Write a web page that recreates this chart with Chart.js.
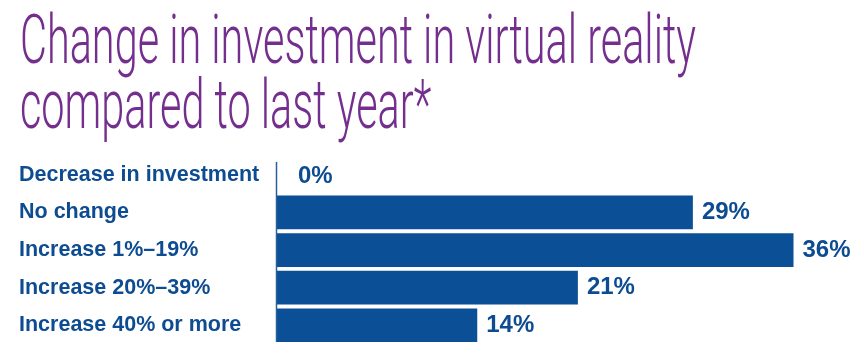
<!DOCTYPE html>
<html><head><meta charset="utf-8">
<script src="https://cdn.jsdelivr.net/npm/chart.js@4.4.0/dist/chart.umd.min.js"></script>
<style>html,body{margin:0;padding:0;background:#fff;} #wrap{width:864px;height:360px;position:relative;}</style>
</head><body><div id="wrap"><canvas id="c" width="864" height="360"></canvas></div>
<script>
const titleLines = ['Change in investment in virtual reality', 'compared to last year*'];
const categories = ['Decrease in investment', 'No change', 'Increase 1%\u201319%', 'Increase 20%\u201339%', 'Increase 40% or more'];
const values = [0, 29, 36, 21, 14];
const valueLabels = ['0%', '29%', '36%', '21%', '14%'];
const axisMax = 40;

const BLUE = '#0B4F96';
const LABEL_BLUE = '#0E4C92';
const PURPLE = '#742F8E';

const titlePlugin = {
  id: 'condensedTitle',
  afterDraw(chart) {
    const ctx = chart.ctx;
    ctx.save();
    ctx.font = '300 69px Roboto';
    ctx.fillStyle = PURPLE;
    ctx.textBaseline = 'alphabetic';
    ctx.textAlign = 'left';
    const w = ctx.measureText(titleLines[0]).width;
    const sx = 676 / w;
    ctx.translate(20, 0);
    ctx.scale(sx, 1);
    ctx.fillText(titleLines[0], 0, 63);
    ctx.fillText(titleLines[1], 0, 128);
    ctx.restore();
  }
};

const axisLinePlugin = {
  id: 'axisLine',
  afterDatasetsDraw(chart) {
    const { ctx, chartArea } = chart;
    ctx.save();
    ctx.strokeStyle = '#2A5F9E';
    ctx.lineWidth = 1.5;
    ctx.beginPath();
    ctx.moveTo(chartArea.left + 0.5, chartArea.top + 6);
    ctx.lineTo(chartArea.left + 0.5, chartArea.bottom - 2);
    ctx.stroke();
    ctx.restore();
  }
};

const valuePlugin = {
  id: 'valueLabels',
  afterDatasetsDraw(chart) {
    const ctx = chart.ctx;
    const meta = chart.getDatasetMeta(0);
    ctx.save();
    ctx.font = 'bold 24px "Liberation Sans"';
    ctx.fillStyle = LABEL_BLUE;
    ctx.textAlign = 'left';
    ctx.textBaseline = 'middle';
    meta.data.forEach((bar, i) => {
      const pad = values[i] === 0 ? 22 : 9;
      const dy = values[i] === 0 ? 2 : 0;
      ctx.fillText(valueLabels[i], bar.x + pad, bar.y + dy);
    });
    ctx.restore();
  }
};

new Chart(document.getElementById('c'), {
  type: 'bar',
  data: {
    labels: categories,
    datasets: [{
      data: values,
      backgroundColor: BLUE,
      borderWidth: 0,
      barPercentage: 0.895,
      categoryPercentage: 1.0
    }]
  },
  options: {
    indexAxis: 'y',
    responsive: false,
    animation: false,
    devicePixelRatio: 1,
    layout: { padding: { top: 156, bottom: 14, left: 19, right: 13 } },
    plugins: { legend: { display: false }, tooltip: { enabled: false }, title: { display: false } },
    scales: {
      x: { display: false, min: 0, max: axisMax },
      y: {
        grid: { display: false },
        border: { display: false },
        afterFit(scale) { scale.width = 257; },
        ticks: {
          autoSkip: false,
          crossAlign: 'far',
          color: LABEL_BLUE,
          font: { family: '"Liberation Sans"', weight: 'bold', size: 21.5 }
        }
      }
    }
  },
  plugins: [titlePlugin, axisLinePlugin, valuePlugin]
});
</script>
</body></html>
